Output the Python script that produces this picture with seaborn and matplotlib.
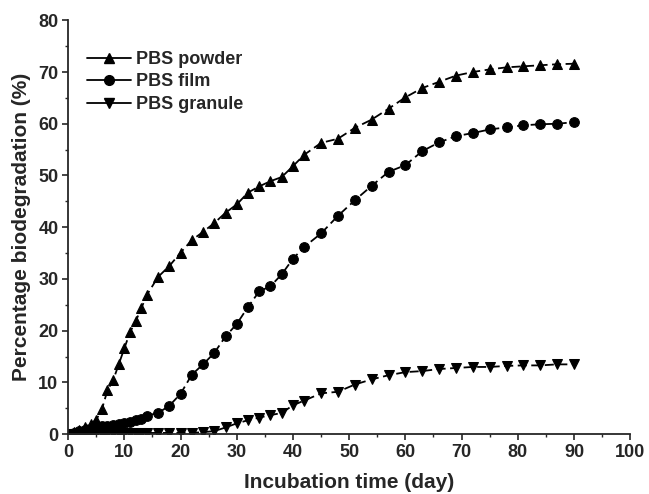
import numpy as np
import pandas as pd
import matplotlib
matplotlib.use("Agg")
import matplotlib.pyplot as plt
import seaborn as sns
from matplotlib.lines import Line2D
from matplotlib.ticker import MultipleLocator

# incubation days (daily for first two weeks, then every 2 days, then every 3)
days = list(range(0, 15)) + list(range(16, 43, 2)) + list(range(45, 91, 3))

powder = [0.0, 0.4, 0.9, 1.4, 2.0, 2.8, 4.8, 8.5, 10.4, 13.5, 16.6, 19.7, 21.8, 24.3, 26.9,
          30.4, 32.5, 35.1, 37.5, 39.1, 40.8, 42.8, 44.4, 46.7, 47.9, 48.9, 49.7, 51.8, 54.0,
          56.3, 57.1, 59.2, 60.8, 62.9, 65.1, 66.9, 68.1, 69.3, 70.0, 70.5, 70.9, 71.1, 71.3,
          71.5, 71.6]
film = [0.0, 0.3, 0.6, 0.9, 1.1, 1.3, 1.5, 1.6, 1.8, 2.0, 2.2, 2.4, 2.7, 3.0, 3.6,
        4.1, 5.5, 7.8, 11.5, 13.5, 15.7, 18.9, 21.3, 24.6, 27.6, 28.6, 30.9, 33.9, 36.2,
        38.8, 42.2, 45.2, 48.0, 50.7, 52.0, 54.7, 56.4, 57.6, 58.2, 58.9, 59.3, 59.7, 59.9,
        60.0, 60.3]
granule = [0.0, 0.05, 0.1, 0.1, 0.15, 0.15, 0.2, 0.2, 0.2, 0.2, 0.2, 0.2, 0.2, 0.25, 0.25,
           0.25, 0.25, 0.25, 0.25, 0.4, 0.6, 1.3, 2.1, 2.7, 3.2, 3.7, 4.1, 5.6, 6.5,
           7.9, 8.2, 9.6, 10.6, 11.4, 12.0, 12.2, 12.6, 12.8, 13.0, 13.0, 13.2, 13.3, 13.3,
           13.5, 13.5]

labels = ["PBS powder", "PBS film", "PBS granule"]
markers = ["^", "o", "v"]
msizes = [7.5, 7, 7.5]

df = pd.DataFrame({"day": days, labels[0]: powder, labels[1]: film, labels[2]: granule})
long_df = df.melt(id_vars="day", var_name="sample", value_name="biodeg")

sns.set_style("ticks")
plt.rcParams["font.family"] = ["Liberation Sans", "DejaVu Sans"]
plt.rcParams["font.weight"] = "bold"

fig = plt.figure(figsize=(6.49, 4.94), dpi=100)
ax = fig.add_axes([0.105, 0.121, 0.866, 0.838])

for name, mk, ms in zip(labels, markers, msizes):
    sub = long_df[long_df["sample"] == name]
    sns.lineplot(data=sub, x="day", y="biodeg", ax=ax, color="black",
                 marker=mk, markersize=ms, markeredgecolor="black",
                 linewidth=1.3, linestyle=(0, (5, 2.5)), legend=False)

handles = [Line2D([0], [0], color="black", lw=1.3, marker=m, markersize=s)
           for m, s in zip(markers, msizes)]
ax.legend(handles, labels, loc="upper left", bbox_to_anchor=(0.005, 0.965), frameon=False,
          handlelength=2.4, handletextpad=0.3, labelspacing=0.3,
          prop={"size": 13, "weight": "bold"})

ax.set_xlim(0, 100)
ax.set_ylim(0, 80)
ax.xaxis.set_major_locator(MultipleLocator(10))
ax.yaxis.set_major_locator(MultipleLocator(10))
ax.xaxis.set_minor_locator(MultipleLocator(5))
ax.yaxis.set_minor_locator(MultipleLocator(5))
ax.tick_params(axis="both", which="major", direction="out", length=4, width=1.2,
               labelsize=13, pad=3)
ax.tick_params(axis="both", which="minor", direction="out", length=2.5, width=1)
for lab in ax.get_xticklabels() + ax.get_yticklabels():
    lab.set_fontweight("bold")

ax.set_xlabel("Incubation time (day)", fontsize=15, fontweight="bold", labelpad=9)
ax.set_ylabel("Percentage biodegradation (%)", fontsize=15, fontweight="bold", labelpad=5)

sns.despine(ax=ax)
ax.spines["left"].set_linewidth(1.3)
ax.spines["bottom"].set_linewidth(1.3)

fig.savefig("out.png", dpi=100)
